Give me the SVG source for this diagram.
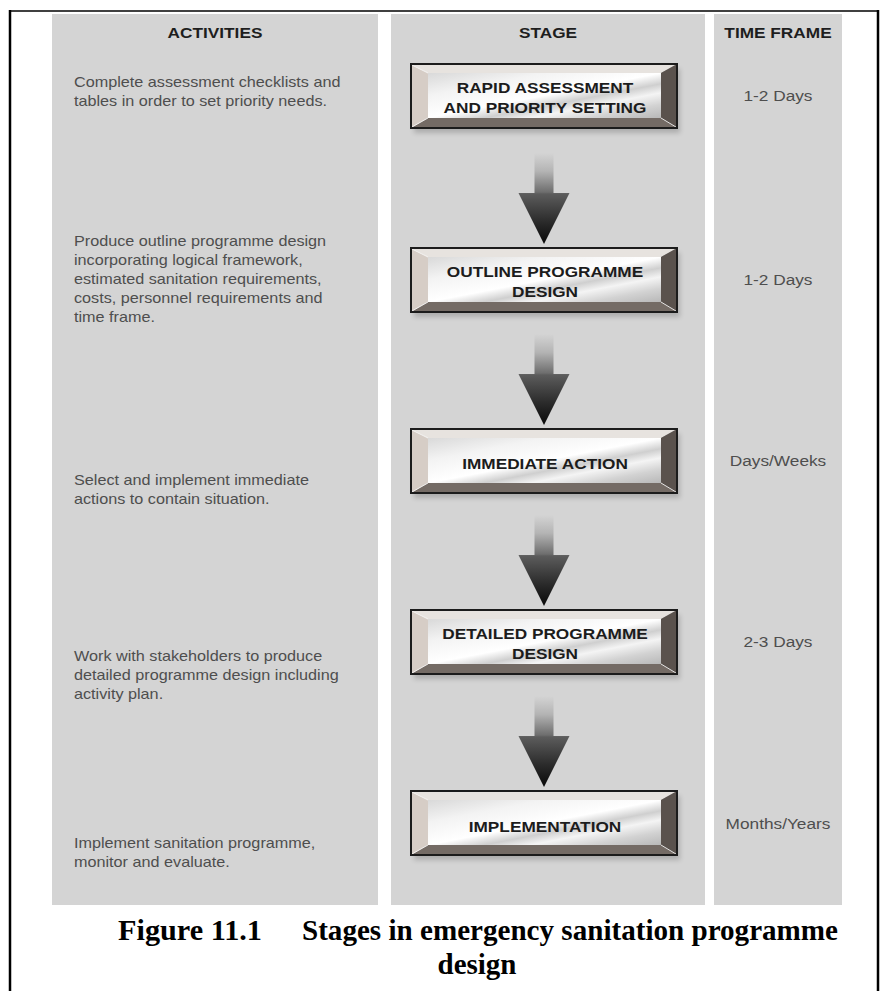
<svg xmlns="http://www.w3.org/2000/svg" width="881" height="991" viewBox="0 0 881 991">
  <style>
    .panel { fill: #d4d4d4; }
    .head { font-family: "Liberation Sans", Arial, sans-serif; font-weight: bold; font-size: 15px; fill: #1e1e1e; text-anchor: middle; }
    .body { font-family: "Liberation Sans", Arial, sans-serif; font-size: 15px; fill: #4e4e4e; }
    .time { font-family: "Liberation Sans", Arial, sans-serif; font-size: 15px; fill: #4e4e4e; text-anchor: middle; }
    .label { font-family: "Liberation Sans", Arial, sans-serif; font-weight: bold; font-size: 15px; fill: #1c1c1c; text-anchor: middle; }
    .caption { font-family: "Liberation Serif", "Times New Roman", serif; font-weight: bold; font-size: 29px; fill: #000; }
    .frame { stroke: #000; fill: none; }
  </style>
  <defs>
    <linearGradient id="faceGrad" x1="0" y1="0" x2="1" y2="1">
      <stop offset="0" stop-color="#d9d9d9"/>
      <stop offset="0.25" stop-color="#f3f3f3"/>
      <stop offset="0.5" stop-color="#ffffff"/>
      <stop offset="0.62" stop-color="#cfcfcf"/>
      <stop offset="0.72" stop-color="#f4f4f4"/>
      <stop offset="0.85" stop-color="#d2d2d2"/>
      <stop offset="1" stop-color="#b8b8b8"/>
    </linearGradient>
    <linearGradient id="arrowGrad" x1="0" y1="0" x2="0" y2="1">
      <stop offset="0" stop-color="#d4d4d4"/>
      <stop offset="0.2" stop-color="#b4b4b4"/>
      <stop offset="0.43" stop-color="#6e6e6e"/>
      <stop offset="0.45" stop-color="#5c5c5c"/>
      <stop offset="0.75" stop-color="#2c2c2c"/>
      <stop offset="1" stop-color="#080808"/>
    </linearGradient>
    <filter id="soft" x="-10%" y="-10%" width="120%" height="140%">
      <feGaussianBlur stdDeviation="2.5"/>
    </filter>
    <!-- bevelled stage plate, 268 x 66 -->
    <g id="plate">
      <rect x="4" y="6" width="266" height="64" fill="#000" opacity="0.18" filter="url(#soft)"/>
      <polygon points="1,1 267,1 251,10 18,10" fill="#e7e3df"/>
      <polygon points="1,1 18,10 18,55 1,65" fill="#d6cdc6"/>
      <polygon points="1,65 18,55 251,55 267,65" fill="#746b65"/>
      <polygon points="267,1 267,65 251,55 251,10" fill="#5a524d"/>
      <rect x="18" y="10" width="233" height="45" fill="url(#faceGrad)"/>
      <path d="M2,2 L18,10 M2,64 L18,55 M266,64 L251,55" stroke="#ffffff" stroke-width="1" opacity="0.8"/>
      <rect x="1" y="1" width="266" height="64" fill="none" stroke="#1c1c1c" stroke-width="2"/>
    </g>
    <!-- downward flow arrow, 91 tall -->
    <path id="flow" d="M-9.5,0 H9.5 V40 H25.5 L0,91 L-25.5,40 H-9.5 Z" fill="url(#arrowGrad)"/>
  </defs>

  <rect width="881" height="991" fill="#ffffff"/>

  <!-- outer frame -->
  <g id="frame">
    <line class="frame" x1="9" y1="11" x2="879" y2="11" stroke-width="1.5"/>
    <line class="frame" x1="10" y1="10" x2="10" y2="991" stroke-width="2.5"/>
    <line class="frame" x1="878" y1="10" x2="878" y2="991" stroke-width="2.5"/>
  </g>

  <!-- column panels -->
  <g id="panels">
    <rect class="panel" x="52" y="14" width="326" height="891"/>
    <rect class="panel" x="391" y="14" width="314" height="891"/>
    <rect class="panel" x="714" y="14" width="128" height="891"/>
  </g>

  <!-- column headings -->
  <g id="headings">
    <text class="head" transform="translate(215,37.5) scale(1.15,1)">ACTIVITIES</text>
    <text class="head" transform="translate(548,37.5) scale(1.15,1)">STAGE</text>
    <text class="head" transform="translate(778,37.5) scale(1.15,1)">TIME FRAME</text>
  </g>

  <!-- activities -->
  <g id="activities" transform="translate(74,0) scale(1.08,1)">
    <text class="body" x="0" y="87">Complete assessment checklists and</text>
    <text class="body" x="0" y="106">tables in order to set priority needs.</text>
    <text class="body" x="0" y="246">Produce outline programme design</text>
    <text class="body" x="0" y="265">incorporating logical framework,</text>
    <text class="body" x="0" y="284">estimated sanitation requirements,</text>
    <text class="body" x="0" y="303">costs, personnel requirements and</text>
    <text class="body" x="0" y="322">time frame.</text>
    <text class="body" x="0" y="485">Select and implement immediate</text>
    <text class="body" x="0" y="504">actions to contain situation.</text>
    <text class="body" x="0" y="661">Work with stakeholders to produce</text>
    <text class="body" x="0" y="680">detailed programme design including</text>
    <text class="body" x="0" y="699">activity plan.</text>
    <text class="body" x="0" y="848">Implement sanitation programme,</text>
    <text class="body" x="0" y="867">monitor and evaluate.</text>
  </g>

  <!-- connectors -->
  <g id="connectors">
    <use href="#flow" x="544" y="153"/>
    <use href="#flow" x="544" y="334"/>
    <use href="#flow" x="544" y="515"/>
    <use href="#flow" x="544" y="696"/>
  </g>

  <!-- stages -->
  <g id="stage-rapid-assessment" transform="translate(410,63)">
    <use href="#plate"/>
    <text class="label" transform="translate(135,30) scale(1.15,1)">RAPID ASSESSMENT</text>
    <text class="label" transform="translate(135,50) scale(1.15,1)">AND PRIORITY SETTING</text>
  </g>
  <g id="stage-outline-design" transform="translate(410,247)">
    <use href="#plate"/>
    <text class="label" transform="translate(135,30) scale(1.15,1)">OUTLINE PROGRAMME</text>
    <text class="label" transform="translate(135,50) scale(1.15,1)">DESIGN</text>
  </g>
  <g id="stage-immediate-action" transform="translate(410,428)">
    <use href="#plate"/>
    <text class="label" transform="translate(135,41) scale(1.15,1)">IMMEDIATE ACTION</text>
  </g>
  <g id="stage-detailed-design" transform="translate(410,609)">
    <use href="#plate"/>
    <text class="label" transform="translate(135,30) scale(1.15,1)">DETAILED PROGRAMME</text>
    <text class="label" transform="translate(135,50) scale(1.15,1)">DESIGN</text>
  </g>
  <g id="stage-implementation" transform="translate(410,790)">
    <use href="#plate"/>
    <text class="label" transform="translate(135,42) scale(1.15,1)">IMPLEMENTATION</text>
  </g>

  <!-- time frames -->
  <g id="time-frames">
    <text class="time" transform="translate(778,101) scale(1.15,1)">1-2 Days</text>
    <text class="time" transform="translate(778,285) scale(1.15,1)">1-2 Days</text>
    <text class="time" transform="translate(778,466) scale(1.15,1)">Days/Weeks</text>
    <text class="time" transform="translate(778,647) scale(1.15,1)">2-3 Days</text>
    <text class="time" transform="translate(778,828.5) scale(1.15,1)">Months/Years</text>
  </g>

  <!-- caption -->
  <g id="caption">
    <text class="caption" x="118" y="940" textLength="144" lengthAdjust="spacingAndGlyphs">Figure 11.1</text>
    <text class="caption" x="302" y="940" textLength="536" lengthAdjust="spacingAndGlyphs">Stages in emergency sanitation programme</text>
    <text class="caption" x="477" y="974" text-anchor="middle">design</text>
  </g>
</svg>
